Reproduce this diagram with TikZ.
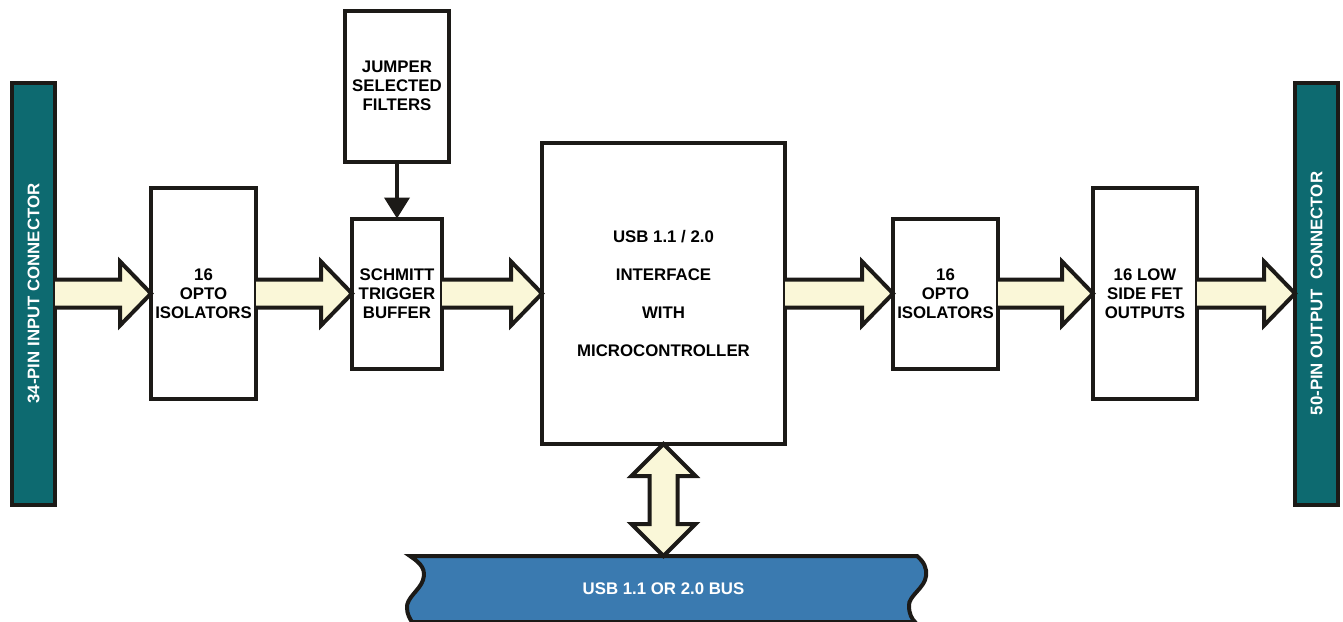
\documentclass[tikz,border=0pt]{standalone}
\usepackage{fontspec}
\setmainfont{Liberation Sans}
\usepackage{graphicx}
\usetikzlibrary{arrows.meta,positioning,calc}
\definecolor{Teal}{HTML}{0D6A70}
\definecolor{BusBlue}{HTML}{3A7AB0}
\definecolor{Cream}{HTML}{FAF7D8}
\definecolor{Edge}{HTML}{1C1A17}
\pgfdeclarelayer{background}
\pgfsetlayers{background,main}
\tikzset{
every node/.style={font=\bfseries\fontsize{16.8}{19}\selectfont},
blockbox/.style={rectangle, draw=Edge, line width=4pt, fill=white, align=center, inner sep=0pt, outer sep=0pt},
connbar/.style={rectangle, draw=Edge, line width=4pt, fill=Teal, text=white, minimum width=43pt, minimum height=422pt, inner sep=0pt, outer sep=0pt},
busband/.style={rectangle, text=white, minimum width=507pt, minimum height=66pt, outer sep=0pt},
fatarrow/.style={draw=Edge, fill=Cream, line width=4pt}
}

\begin{document}
\begin{tikzpicture}[
x=1pt, y=-1pt,
>={Triangle[length=21pt,width=25pt]}]
\useasboundingbox (0,0) rectangle (1343,621);

\node[connbar] (inconn) at (33.5,293.5) {\rotatebox{90}{34-PIN INPUT CONNECTOR}};
\node[blockbox, minimum width=105pt, minimum height=211pt, right=96pt of inconn] (opto1) {16\\OPTO\\ISOLATORS};
\node[blockbox, minimum width=90pt, minimum height=150pt, right=96pt of opto1] (schmitt) {SCHMITT\\TRIGGER\\BUFFER};
\node[blockbox, minimum width=104pt, minimum height=151pt, above=57pt of schmitt] (jumper) {JUMPER\\SELECTED\\FILTERS};
\node[blockbox, minimum width=243pt, minimum height=301pt, right=100pt of schmitt] (mcu) {USB 1.1 / 2.0\\[19pt]INTERFACE\\[19pt]WITH\\[19pt]MICROCONTROLLER};
\node[blockbox, minimum width=105pt, minimum height=150pt, right=108pt of mcu] (opto2) {16\\OPTO\\ISOLATORS};
\node[blockbox, minimum width=104pt, minimum height=211pt, right=95pt of opto2] (fet) {16 LOW\\SIDE FET\\OUTPUTS};
\node[connbar, right=98pt of fet] (outconn) {\rotatebox{90}{50-PIN OUTPUT~~CONNECTOR}};
\node[busband, below=112pt of mcu] (bus) {USB 1.1 OR 2.0 BUS};

% bus band with wavy ends
\begin{pgfonlayer}{background}
\begin{scope}[shift={(bus.north west)}]
\filldraw[draw=Edge, fill=BusBlue, line width=4pt] (0,0) -- (507,0)
  .. controls (514,6) and (517,12) .. (516,20)
  .. controls (515,32) and (498,40) .. (499,50)
  .. controls (499,58) and (502,63) .. (505,66) -- (2,66)
  .. controls (0,63) and (-3,58) .. (-3,52)
  .. controls (-4,42) and (10,34) .. (13,24)
  .. controls (16,14) and (12,8) .. (0,0) -- cycle;
\end{scope}
\end{pgfonlayer}

\draw[->, draw=Edge, line width=4pt] (jumper) -- (schmitt);

\foreach \from/\to in {inconn/opto1, opto1/schmitt, schmitt/mcu, mcu/opto2, opto2/fet, fet/outconn}
  \filldraw[fatarrow] ($(\from.east |- \to.west)+(0,-14)$) -- ($(\to.west)+(-31,-14)$) -- ++(0,-18)
    -- (\to.west) -- ++(-31,32) -- ++(0,-18) -- ($(\from.east |- \to.west)+(0,14)$);

\filldraw[fatarrow] (mcu.south) -- ++(32,32) -- ++(-18,0) -- ($(mcu.south |- bus.north)+(14,-32)$) -- ++(18,0)
  -- (mcu.south |- bus.north) -- ++(-32,-32) -- ++(18,0) -- ($(mcu.south)+(-14,32)$) -- ++(-18,0) -- cycle;
\end{tikzpicture}
\end{document}
